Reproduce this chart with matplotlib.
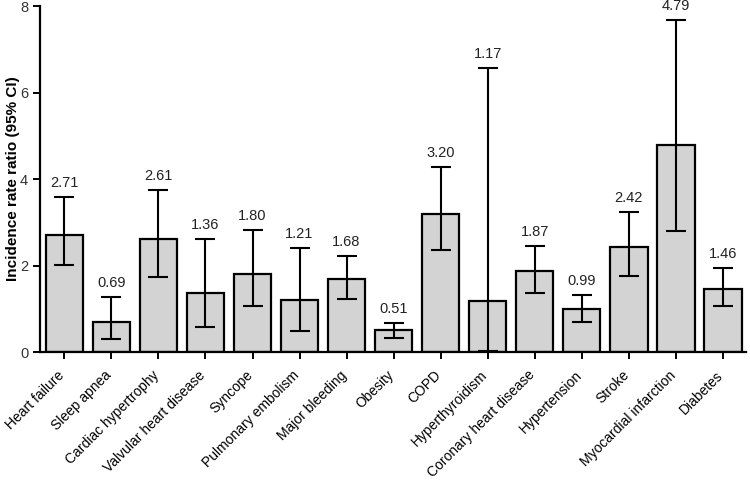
import matplotlib
matplotlib.use("Agg")
import matplotlib.pyplot as plt
import matplotlib.transforms as mtransforms
import numpy as np

plt.rcParams['font.family'] = ['Liberation Sans', 'DejaVu Sans']

categories = ["Heart failure", "Sleep apnea", "Cardiac hypertrophy", "Valvular heart disease",
              "Syncope", "Pulmonary embolism", "Major bleeding", "Obesity", "COPD",
              "Hyperthyroidism", "Coronary heart disease", "Hypertension", "Stroke",
              "Myocardial infarction", "Diabetes"]
irr = [2.71, 0.69, 2.61, 1.36, 1.80, 1.21, 1.68, 0.51, 3.20, 1.17, 1.87, 0.99, 2.42, 4.79, 1.46]
ci_low = [2.01, 0.30, 1.74, 0.58, 1.06, 0.49, 1.23, 0.32, 2.35, 0.02, 1.36, 0.70, 1.76, 2.80, 1.06]
ci_high = [3.58, 1.27, 3.75, 2.61, 2.82, 2.41, 2.22, 0.68, 4.28, 6.57, 2.45, 1.32, 3.23, 7.67, 1.94]
y_ticks = [0, 2, 4, 6, 8]

fig = plt.figure(figsize=(7.5, 4.84), dpi=100)
ax = fig.add_axes([0.0533, 0.2727, 0.9417, 0.7149])

x = np.arange(len(categories))
irr_a = np.array(irr)
yerr = np.vstack([irr_a - np.array(ci_low), np.array(ci_high) - irr_a])

ax.bar(x, irr, width=0.8, color='#d3d3d3', edgecolor='black', linewidth=1.6, zorder=2)
ax.errorbar(x, irr, yerr=yerr, fmt='none', ecolor='black', elinewidth=1.5,
            capsize=7.5, capthick=1.5, zorder=3)

for xi, v, hi in zip(x, irr, ci_high):
    ax.annotate(f"{v:.2f}", (xi, hi), xytext=(0, 5), textcoords='offset points',
                ha='center', va='bottom', fontsize=10.5, color='#222222')

ax.set_xlim(-0.52, 14.5)
ax.set_ylim(0, 8)
ax.set_yticks(y_ticks)
ax.set_yticklabels([str(t) for t in y_ticks], fontsize=10.5, color='#333333')
ax.set_xticks(x)
ax.set_xticklabels(categories, rotation=45, ha='right', rotation_mode='anchor', fontsize=10)
ax.set_ylabel("Incidence rate ratio (95% CI)", fontsize=11, fontweight='bold')
ax.yaxis.set_label_coords(-0.028, 0.5)

for s in ['top', 'right']:
    ax.spines[s].set_visible(False)
for s in ['left', 'bottom']:
    ax.spines[s].set_linewidth(1.6)
ax.tick_params(axis='both', direction='out', width=1.4, length=5)
ax.tick_params(axis='x', pad=8)

offset = mtransforms.ScaledTranslation(-7 / 100, 2 / 100, fig.dpi_scale_trans)
for lab in ax.get_xticklabels():
    lab.set_transform(lab.get_transform() + offset)

fig.savefig("out.png", dpi=100)
